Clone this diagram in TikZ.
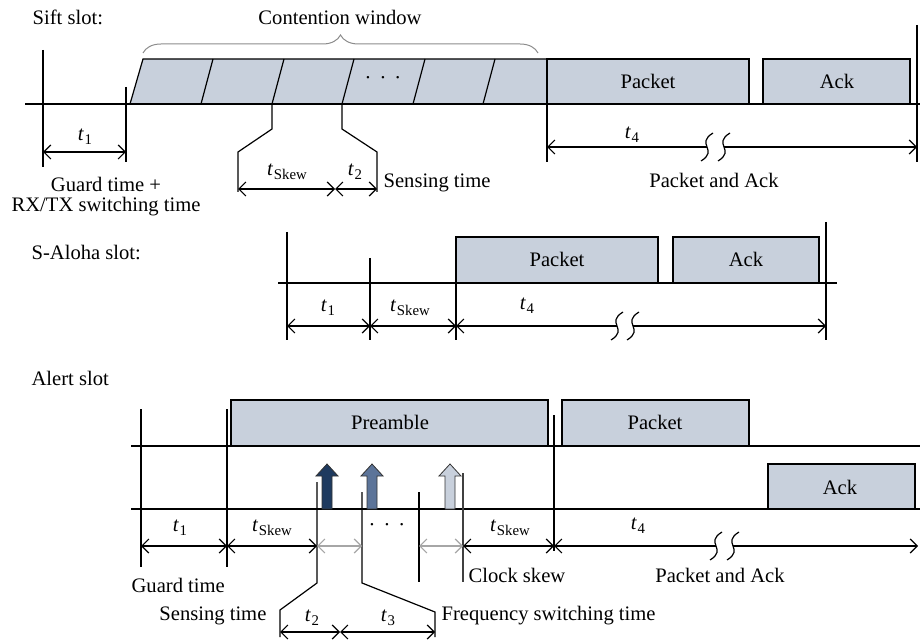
\documentclass[tikz,border=0pt]{standalone}
\usepackage{fontspec}
\setmainfont{Liberation Serif}
\usetikzlibrary{arrows.meta,decorations.pathreplacing}
\definecolor{slotfill}{RGB}{200,208,220}
\definecolor{navyarrow}{RGB}{30,58,95}
\definecolor{midarrow}{RGB}{92,116,153}
\definecolor{palearrow}{RGB}{200,208,220}
\newcommand\tlab[1]{\textit{t}\kern0.3pt\raisebox{-0.45ex}{\fontsize{7.4}{8}\selectfont #1}}
\newcommand\dotrow{\textperiodcentered\hspace{4pt}\textperiodcentered\hspace{4pt}\textperiodcentered}
\begin{document}
\begin{tikzpicture}[x=0.5pt,y=-0.5pt,line width=0.6pt,
  every node/.style={font=\fontsize{10.3}{12}\selectfont,inner sep=0pt},
  box/.style={draw,fill=slotfill},
  barb/.tip={Straight Barb[length=3.5pt,width=7pt]},
  dim/.style={barb-barb},
  dimL/.style={barb-},
  dimR/.style={-barb},
  brk/.pic={\draw (-6,14) .. controls (12,3) and (-12,-3) .. (6,-14);},
  upblk/.pic={\path[pic actions] (-5,0) -- (-5,-33) -- (-11,-33) -- (0,-45)
      -- (11,-33) -- (5,-33) -- (5,0) -- cycle;}]
\useasboundingbox (0,0) rectangle (920,641);

% ---------------- Sift slot ----------------
\node[anchor=west] (siftT) at (32,17) {Sift slot:};
\node (cwT) at (340,17) {Contention window};
\draw[black!45,line width=0.5pt,decorate,decoration={brace,amplitude=9pt}]
  (143,53) -- (538,53);

% contention slots (slanted) and data boxes
\fill[slotfill] (130,104) -- (143,59) -- (547,59) -- (547,104) -- cycle;
\draw (130,104) -- (143,59) -- (547,59);
\foreach \b/\t in {201/213,272/284,342/354,413/425,483/495}
  \draw (\b,104) -- (\t,59);
\node (cwdots) at (383,80) {\dotrow};
\draw[box] (547,59) rectangle (749,104);
\node (siftPk) at (648,81) {Packet};
\draw[box] (763,59) rectangle (910,104);
\node (siftAck) at (837,81) {Ack};

% time axis and marks
\draw (25,104) -- (920,104);
\draw (43,50) -- (43,167);
\draw (126,87) -- (126,162);
\draw (547,59) -- (547,162);
\draw (917,25) -- (917,162);

\draw[dim] (43,152) -- (126,152);
\node (siftT1) at (85,137) {\tlab{1}};
\node (siftG1) at (106,184) {Guard time +};
\node (siftG2) at (106,207) {RX/TX switching time};

% skew / sensing call-out
\draw (272,104) -- (272,129) -- (238,152) -- (238,192);
\draw (342,104) -- (342,129) -- (377,152) -- (377,192);
\draw[dim] (238,189) -- (335,189);
\draw[dim] (335,189) -- (377,189);
\node (siftSk) at (287,172) {\tlab{Skew}};
\node (siftT2) at (355,172) {\tlab{2}};
\node[anchor=west] (siftSens) at (383,183) {Sensing time};

% packet and ack span
\draw[dimL] (547,147) -- (707,147);
\draw[dimR] (724,147) -- (917,147);
\pic at (707,147) {brk};
\pic at (724,147) {brk};
\node (siftT4) at (632,135) {\tlab{4}};
\node (siftPA) at (714,180) {Packet and Ack};

% ---------------- S-Aloha slot ----------------
\node[anchor=west] (alohaT) at (31,253) {S-Aloha slot:};
\draw[box] (456,237) rectangle (658,283);
\node (alohaPk) at (557,259) {Packet};
\draw[box] (673,237) rectangle (819,283);
\node (alohaAck) at (746,259) {Ack};
\draw (278,283) -- (837,283);
\draw (287,232) -- (287,340);
\draw (370,258) -- (370,340);
\draw (456,265) -- (456,340);
\draw (826,222) -- (826,340);

\draw[dim] (287,326) -- (370,326);
\draw[dim] (370,326) -- (456,326);
\draw[dimL] (456,326) -- (617,326);
\draw[dimR] (633,326) -- (826,326);
\pic at (617,326) {brk};
\pic at (633,326) {brk};
\node (alohaT1) at (328,308) {\tlab{1}};
\node (alohaSk) at (410,308) {\tlab{Skew}};
\node (alohaT4) at (527,306) {\tlab{4}};

% ---------------- Alert slot ----------------
\node[anchor=west] (alertT) at (31,378) {Alert slot};
\draw[box] (231,400) rectangle (548,446);
\node (alertPre) at (390,422) {Preamble};
\draw[box] (562,400) rectangle (749,446);
\node (alertPk) at (655,422) {Packet};
\draw[box] (768,464) rectangle (915,509);
\node (alertAck) at (840,487) {Ack};

\draw (131,446) -- (920,446);
\draw (131,509) -- (920,509);
\draw (141,409) -- (141,567);
\draw (227,409) -- (227,567);
\draw (554,415) -- (554,551);

% sensing arrows on successive channels
\pic[fill=navyarrow,draw=black!80,line width=0.4pt] at (327,509) {upblk};
\pic[fill=midarrow,draw=black!80,line width=0.4pt] at (372,509) {upblk};
\pic[fill=palearrow,draw=black!80,line width=0.4pt] at (450,509) {upblk};

\draw (317,482) -- (317,583) -- (280,610) -- (280,637);
\draw (362,492) -- (362,583) -- (435,612) -- (435,637);
\draw (419,492) -- (419,582);
\draw[black!75] (463,473) -- (463,582);

\draw[dim] (141,546) -- (227,546);
\draw[dim] (227,546) -- (317,546);
\draw[dim,black!35] (317,546) -- (362,546);
\draw[dim,black!35] (419,546) -- (463,546);
\draw[dim] (463,546) -- (554,546);
\draw[dimL] (554,546) -- (716,546);
\draw[dimR] (733,546) -- (918,546);
\pic at (716,546) {brk};
\pic at (733,546) {brk};

\node (alertT1) at (180,528) {\tlab{1}};
\node (alertSk1) at (272,528) {\tlab{Skew}};
\node (alertDots) at (387,527) {\dotrow};
\node (alertSk2) at (510,528) {\tlab{Skew}};
\node (alertT4) at (638,526) {\tlab{4}};
\node[anchor=west] (alertGuard) at (131,585) {Guard time};
\node[anchor=west] (alertClock) at (468,575) {Clock skew};
\node (alertPA) at (720,575) {Packet and Ack};

\draw[dim] (280,632) -- (340,632);
\draw[dim] (340,632) -- (435,632);
\node (alertT2) at (312,618) {\tlab{2}};
\node (alertT3) at (388,618) {\tlab{3}};
\node[anchor=east] (alertSens) at (267,616) {Sensing time};
\node[anchor=west] (alertFreq) at (441,616) {Frequency switching time};
\end{tikzpicture}
\end{document}
